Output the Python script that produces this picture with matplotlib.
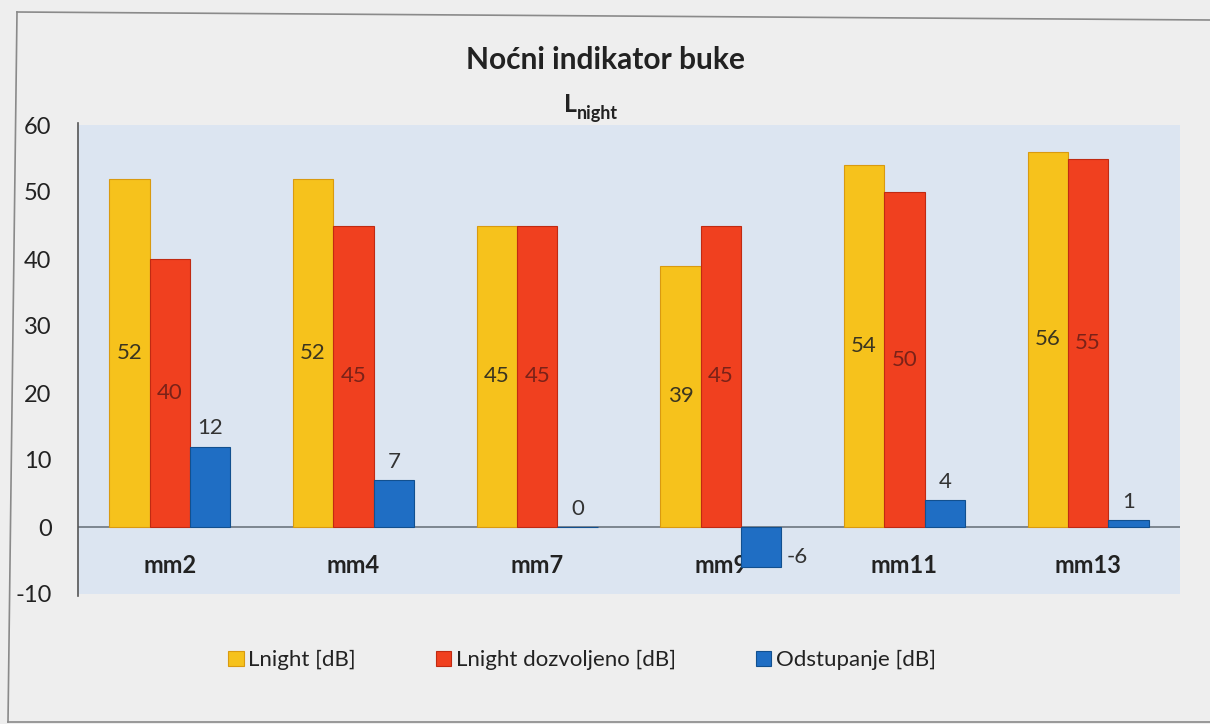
import numpy as np
import matplotlib
matplotlib.use("Agg")
import matplotlib.pyplot as plt
from matplotlib.lines import Line2D

# podaci
mjerna_mjesta = ["mm2", "mm4", "mm7", "mm9", "mm11", "mm13"]
lnight = [52, 52, 45, 39, 54, 56]
lnight_dozvoljeno = [40, 45, 45, 45, 50, 55]
odstupanje = [12, 7, 0, -6, 4, 1]
serije = ["Lnight [dB]", "Lnight dozvoljeno [dB]", "Odstupanje [dB]"]
y_ticks = [-10, 0, 10, 20, 30, 40, 50, 60]

plt.rcParams['font.family'] = ['Lato', 'DejaVu Sans']
plt.rcParams['axes.unicode_minus'] = False

boje = ['#f6c21c', '#f0401f', '#1f6ec4']
rubovi = ['#d99a10', '#c02a12', '#12508f']
boje_teksta = ['#3b3520', '#7a2218', '#333333']

fig = plt.figure(figsize=(12.1, 7.24), dpi=100)
fig.patch.set_facecolor('#eeeeee')

W, H = 1210.0, 724.0
ax = fig.add_axes([78 / W, 1 - 594 / H, (1180 - 78) / W, (594 - 125) / H])
ax.set_facecolor('#dce5f1')

x = np.arange(len(mjerna_mjesta))
sirina = 0.22
pomaci = [-sirina, 0, sirina]
podaci = [lnight, lnight_dozvoljeno, odstupanje]

for i in range(3):
    ax.bar(x + pomaci[i], podaci[i], width=sirina, color=boje[i],
           edgecolor=rubovi[i], linewidth=0.8, label=serije[i], zorder=3)

# oznake vrijednosti
for j in range(len(x)):
    ax.text(x[j] - sirina, lnight[j] / 2, str(lnight[j]), ha='center', va='center',
            fontsize=16, color=boje_teksta[0], zorder=4)
    ax.text(x[j], lnight_dozvoljeno[j] / 2, str(lnight_dozvoljeno[j]), ha='center',
            va='center', fontsize=16, color=boje_teksta[1], zorder=4)
    v = odstupanje[j]
    if v >= 0:
        ax.annotate(str(v), (x[j] + sirina, v), xytext=(0, 6), textcoords='offset points',
                    ha='center', va='bottom', fontsize=16, color=boje_teksta[2], zorder=4)
    else:
        ax.annotate(str(v), (x[j] + sirina * 1.5, v * 0.75), xytext=(4, 0),
                    textcoords='offset points', ha='left', va='center', fontsize=16,
                    color=boje_teksta[2], zorder=4)
    # naziv mjernog mjesta
    ax.text(x[j], -5.7, mjerna_mjesta[j], ha='center', va='center', fontsize=17,
            fontweight='bold', color='#222222', zorder=2)

ax.axhline(0, color='#6d7680', linewidth=1.2, zorder=2)
ax.set_xlim(-0.5, len(x) - 0.5)
ax.set_ylim(-10, 60)
ax.set_yticks(y_ticks)
ax.set_xticks([])
ax.tick_params(axis='y', length=0, pad=19, labelsize=17, labelcolor='#222222')
for s in ['top', 'right', 'bottom']:
    ax.spines[s].set_visible(False)
ax.spines['left'].set_color('#555555')
ax.spines['left'].set_linewidth(1.2)
ax.spines['left'].set_bounds(-10.3, 60.3)

# naslov
fig.text(606 / W, 1 - 60 / H, "Noćni indikator buke", ha='center', va='center',
         fontsize=21.5, fontweight='bold', color='#222222')
fig.text(577 / W, 1 - 104 / H, "L", ha='right', va='center', fontsize=18,
         fontweight='bold', color='#222222')
fig.text(577 / W, 1 - 114 / H, "night", ha='left', va='center', fontsize=13,
         fontweight='bold', color='#222222')

# legenda
ax.legend(loc='center', bbox_to_anchor=(582 / W, 1 - 660 / H), bbox_transform=fig.transFigure,
          ncol=3, frameon=False, fontsize=16, handlelength=0.7, handleheight=0.7,
          handletextpad=0.2, columnspacing=3.6, labelcolor='#222222')

# okvir slike
okvir = [((17, 12), (1210, 20)), ((17, 12), (8, 722)), ((8, 722), (1210, 722))]
for (x0, y0), (x1, y1) in okvir:
    fig.add_artist(Line2D([x0 / W, x1 / W], [1 - y0 / H, 1 - y1 / H],
                          transform=fig.transFigure, color='#8a8a8a', linewidth=1.2))

plt.savefig("out.png", dpi=100, facecolor=fig.get_facecolor())
